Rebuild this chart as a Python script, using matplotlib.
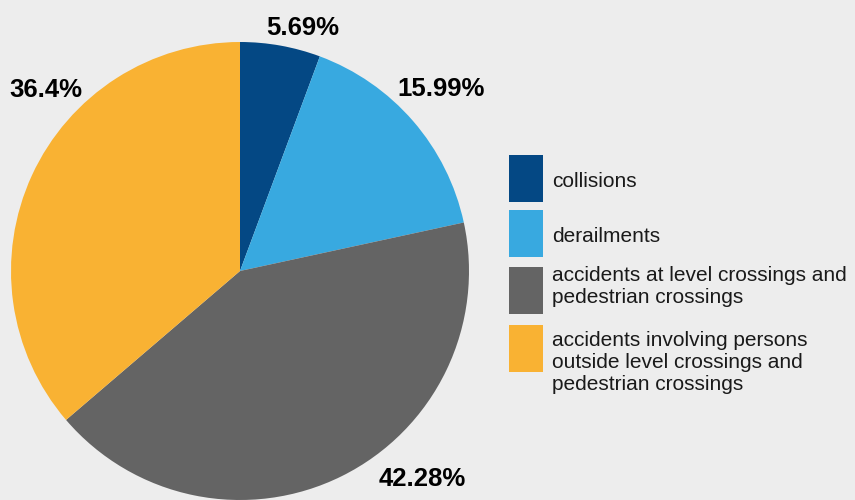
import matplotlib.pyplot as plt
from matplotlib.patches import Rectangle

plt.rcParams['font.family'] = ['Liberation Sans', 'DejaVu Sans']

categories = ['collisions', 'derailments',
              'accidents at level crossings and\npedestrian crossings',
              'accidents involving persons\noutside level crossings and\npedestrian crossings']
shares = [5.69, 15.99, 42.28, 36.4]
pct_labels = ['5.69%', '15.99%', '42.28%', '36.4%']
colors = ['#044884', '#38a9e0', '#646464', '#f9b233']

bg = '#ededed'
W, H = 855, 500
fig = plt.figure(figsize=(W / 100, H / 100), dpi=100, facecolor=bg)

# pie: centre (240, 271) px, radius 229 px
cx, cy, r = 240, 271, 229
ax = fig.add_axes([(cx - r) / W, (H - cy - r) / H, 2 * r / W, 2 * r / H])
ax.set_facecolor(bg)
ax.pie(shares, colors=colors, startangle=90, counterclock=False,
       wedgeprops=dict(linewidth=0))
ax.set_xlim(-1, 1)
ax.set_ylim(-1, 1)
ax.set_aspect('equal')
ax.axis('off')

# percentage labels (x centre, baseline in px)
label_pos = [(303, 35), (441, 96), (422, 486), (46, 97)]
for txt, (px, py) in zip(pct_labels, label_pos):
    fig.text(px / W, 1 - py / H, txt, ha='center', va='baseline',
             fontsize=18.5, fontweight='bold', color='black')

# legend
patch_tops = [155, 210, 267, 325]
text_tops = [172, 227, 266, 331]
for cat, col, top, tt in zip(categories, colors, patch_tops, text_tops):
    fig.patches.append(Rectangle((509 / W, 1 - (top + 47) / H), 34 / W, 47 / H,
                                 transform=fig.transFigure, facecolor=col,
                                 edgecolor='none'))
    fig.text(552 / W, 1 - tt / H, cat, ha='left', va='top',
             fontsize=15, color='#1a1a1a', linespacing=1.2)

fig.savefig('out.png', dpi=100, facecolor=bg)
